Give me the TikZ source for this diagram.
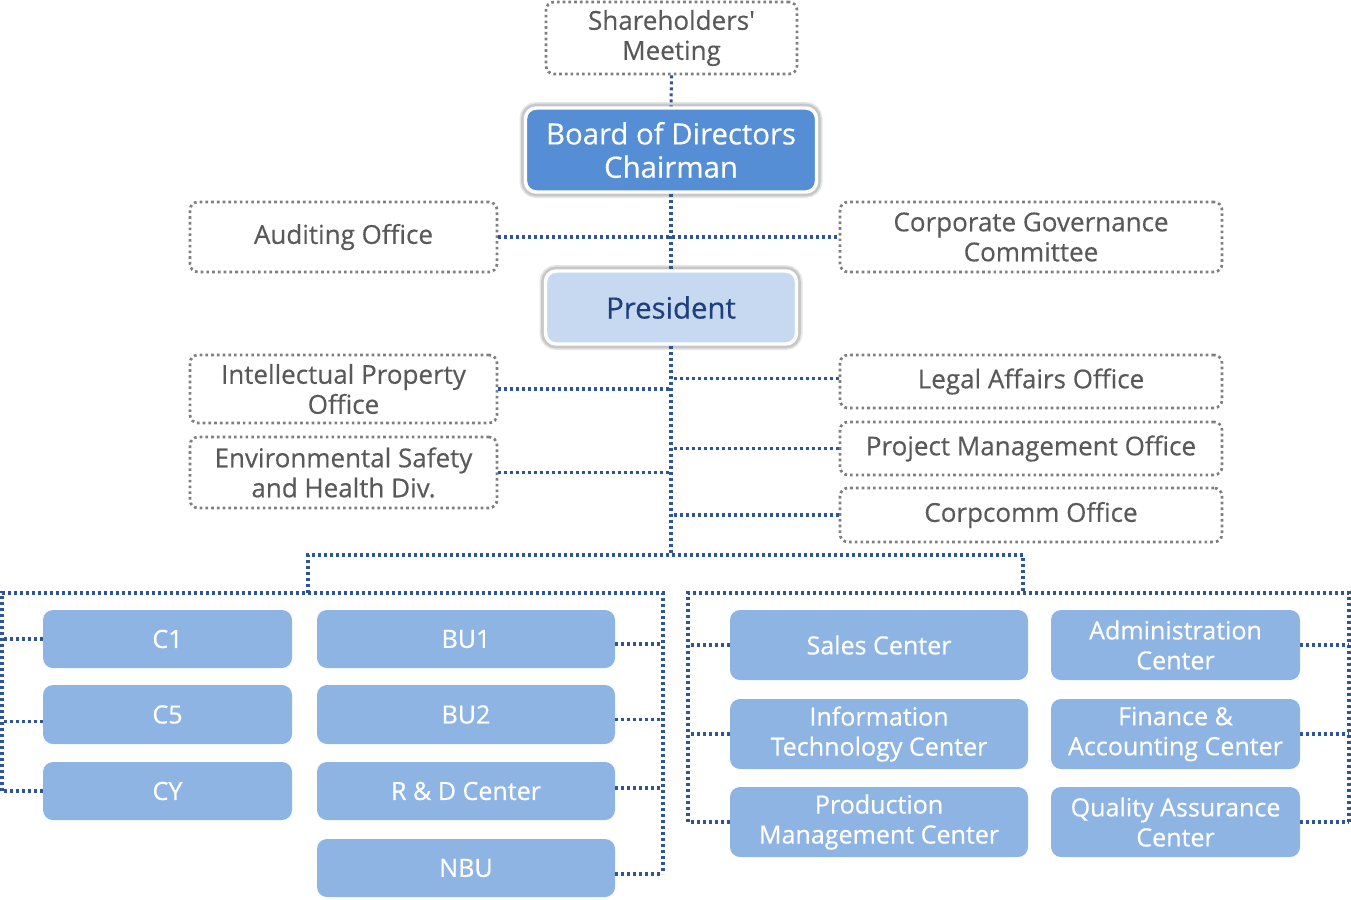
\documentclass[tikz,border=0pt]{standalone}
\usepackage{fontspec}
\setmainfont{Open Sans}[Ligatures=TeXOff, FakeBold=0.4]
\newfontfamily\ufont{Open Sans}[Ligatures=TeXOff, FakeBold=0.5]
\definecolor{boardblue}{HTML}{558ED5}
\definecolor{presblue}{HTML}{C6D9F1}
\definecolor{presText}{HTML}{1F3F7A}
\definecolor{unitblue}{HTML}{8EB4E3}
\definecolor{lineblue}{HTML}{2F5597}
\definecolor{dotgray}{HTML}{7F7F7F}
\definecolor{txtgray}{HTML}{595959}
\begin{document}
\begin{tikzpicture}[x=0.75pt,y=-0.75pt,
  gbox/.style={draw=dotgray, line width=2pt, dash pattern=on 2pt off 2.3pt, rounded corners=6pt,
    text=txtgray, align=center, inner sep=0pt, font=\fontsize{19.5}{22.5}\selectfont},
  topbox/.style={draw=white, line width=2.6pt, rounded corners=8pt, align=center, inner sep=0pt,
    preaction={draw=black!10, line width=9pt},
    preaction={draw=black!22, line width=6.5pt},
    font=\fontsize{22}{25}\selectfont},
  ubox/.style={fill=unitblue, rounded corners=7.5pt, text=white, inner sep=0pt, align=center,
    font=\ufont\fontsize{18.8}{22.5}\selectfont},
  bl/.style={draw=lineblue, line width=2.3pt, dash pattern=on 2.2pt off 2.3pt}
]
\useasboundingbox (0,0) rectangle (1351,899);
% top level
\node[gbox, minimum width=188.25pt, minimum height=54pt] (share) at (671.5,38) {Shareholders'\\Meeting};
\node[topbox, fill=boardblue, text=white, minimum width=218.25pt, minimum height=63pt] (board) at (671,150) {Board of Directors\\Chairman};
\node[topbox, fill=presblue, text=presText, minimum width=188.25pt, minimum height=54.75pt] (pres) at (671,307.5) {President};
\node[gbox, minimum width=230.25pt, minimum height=52.5pt] (audit) at (343.5,237) {\raisebox{-2pt}{Auditing Office}};
\node[gbox, minimum width=286.5pt, minimum height=52.5pt] (cgc) at (1031,237) {Corporate Governance\\Committee};
\node[gbox, minimum width=230.25pt, minimum height=51pt] (ipo) at (343.5,389) {Intellectual Property\\Office};
\node[gbox, minimum width=230.25pt, minimum height=53.25pt] (esh) at (343.5,472.5) {Environmental Safety\\and Health Div.};
\node[gbox, minimum width=286.5pt, minimum height=39.75pt] (legal) at (1031,381.5) {Legal Affairs Office};
\node[gbox, minimum width=286.5pt, minimum height=39.75pt] (pmo) at (1031,448.5) {Project Management Office};
\node[gbox, minimum width=286.5pt, minimum height=40.5pt] (ccomm) at (1031,515) {Corpcomm Office};
% units left
\node[ubox, minimum width=186.75pt, minimum height=43.5pt] (c1) at (167.5,639) {C1};
\node[ubox, minimum width=186.75pt, minimum height=44.25pt] (c5) at (167.5,714.5) {C5};
\node[ubox, minimum width=186.75pt, minimum height=43.5pt] (cy) at (167.5,791) {CY};
\node[ubox, minimum width=223.5pt, minimum height=43.5pt] (bu1) at (466,639) {BU1};
\node[ubox, minimum width=223.5pt, minimum height=44.25pt] (bu2) at (466,714.5) {BU2};
\node[ubox, minimum width=223.5pt, minimum height=43.5pt] (rd) at (466,791) {R \& D Center};
\node[ubox, minimum width=223.5pt, minimum height=43.5pt] (nbu) at (466,868) {NBU};
% units right
\node[ubox, minimum width=223.5pt, minimum height=52.5pt] (sales) at (879,645) {Sales Center};
\node[ubox, minimum width=223.5pt, minimum height=52.5pt] (itc) at (879,734) {Information\\Technology Center};
\node[ubox, minimum width=223.5pt, minimum height=52.5pt] (pmc) at (879,822) {Production\\Management Center};
\node[ubox, minimum width=186.75pt, minimum height=52.5pt] (adm) at (1175.5,645) {Administration\\Center};
\node[ubox, minimum width=186.75pt, minimum height=52.5pt] (fin) at (1175.5,734) {Finance \&\\Accounting Center};
\node[ubox, minimum width=186.75pt, minimum height=52.5pt] (qa) at (1175.5,822) {Quality Assurance\\Center};
% coordinates
\coordinate (trunk) at (671,555);
\coordinate (jl) at (308,555);
\coordinate (jr) at (1023,555);
\coordinate (gl) at (308,593);
\coordinate (gr) at (1023,593);
\coordinate (lfl) at (2,593);
\coordinate (lfr) at (663,593);
\coordinate (rfl) at (688,593);
\coordinate (rfr) at (1349,593);
\coordinate (bu1p) at ([yshift=-3.75pt]bu1.east);
\coordinate (bu2p) at ([yshift=-3.4pt]bu2.east);
\coordinate (rdp) at ([yshift=2.25pt]rd.east);
\coordinate (nbup) at ([yshift=-4.5pt]nbu.east);
\coordinate (c5p) at ([yshift=-4.9pt]c5.west);
\coordinate (legalp) at ([yshift=2.6pt]legal.west);
% connectors
\draw[bl] (share.south) -- (board.north);
\draw[bl] (board.south) -- (pres.north);
\draw[bl] (audit.east) -- (cgc.west);
\draw[bl] (pres.south) -- (trunk);
\draw[bl] (ipo.east) -- (ipo.east -| trunk);
\draw[bl] (esh.east) -- (esh.east -| trunk);
\draw[bl] (legalp) -- (legalp -| trunk);
\draw[bl] (pmo.west) -- (pmo.west -| trunk);
\draw[bl] (ccomm.west) -- (ccomm.west -| trunk);
\draw[bl] (gl) -- (jl) -- (jr) -- (gr);
% left frame
\draw[bl] (cy.west -| lfl) -- (lfl) -- (lfr) -- (nbup -| lfr);
\draw[bl] (c1.west) -- (c1.west -| lfl);
\draw[bl] (c5p) -- (c5p -| lfl);
\draw[bl] (cy.west) -- (cy.west -| lfl);
\draw[bl] (bu1p) -- (bu1p -| lfr);
\draw[bl] (bu2p) -- (bu2p -| lfr);
\draw[bl] (rdp) -- (rdp -| lfr);
\draw[bl] (nbup) -- (nbup -| lfr);
% right frame
\draw[bl] (pmc.west -| rfl) -- (rfl) -- (rfr) -- (qa.east -| rfr);
\draw[bl] (sales.west) -- (sales.west -| rfl);
\draw[bl] (itc.west) -- (itc.west -| rfl);
\draw[bl] (pmc.west) -- (pmc.west -| rfl);
\draw[bl] (adm.east) -- (adm.east -| rfr);
\draw[bl] (fin.east) -- (fin.east -| rfr);
\draw[bl] (qa.east) -- (qa.east -| rfr);
\end{tikzpicture}
\end{document}
